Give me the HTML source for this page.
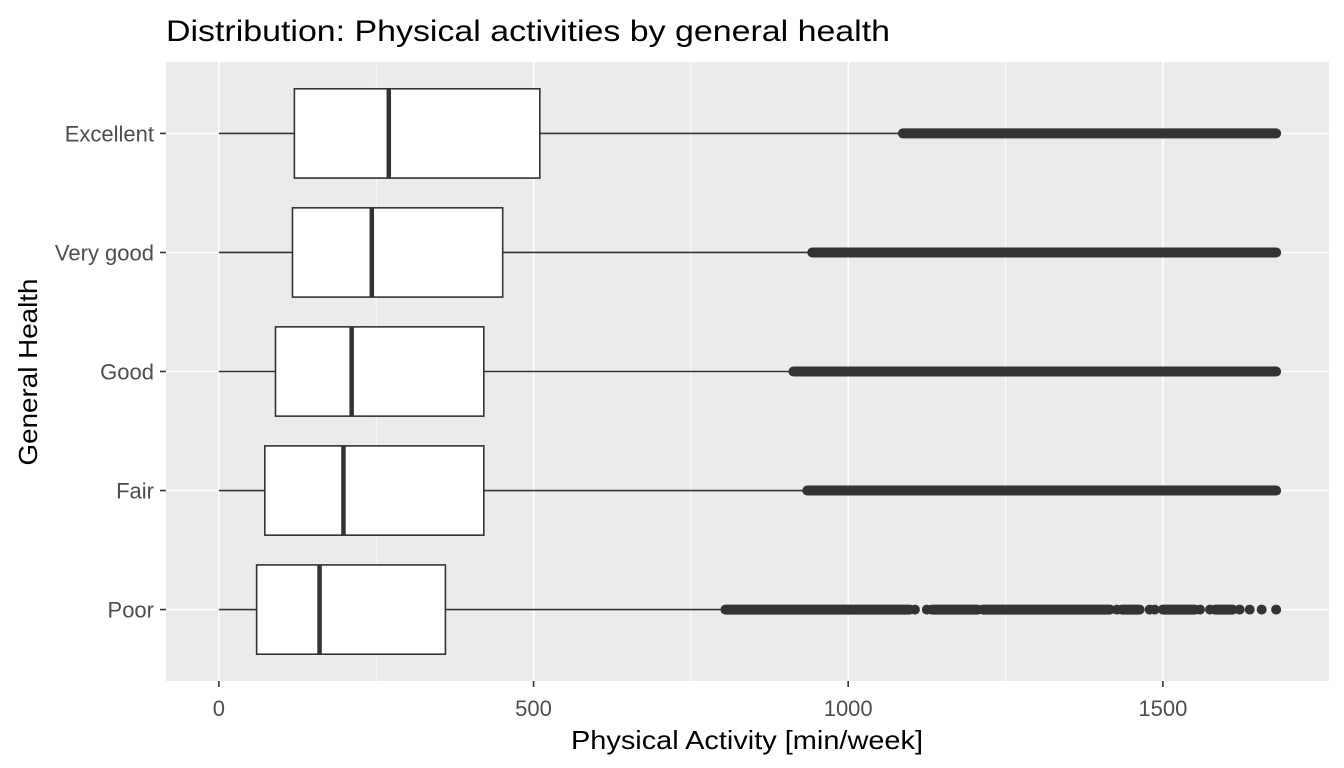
<!DOCTYPE html>
<html><head><meta charset="utf-8">
<style>
html,body{margin:0;padding:0;background:#fff;}
svg{display:block;font-family:"Liberation Sans",Arial,sans-serif;}
</style></head>
<body>
<svg id="chart" width="1344" height="768" viewBox="0 0 1344 768" xmlns="http://www.w3.org/2000/svg">
<rect x="0" y="0" width="1344" height="768" fill="#fff"/>
<text x="166" y="41" font-size="30" fill="#000" textLength="724" lengthAdjust="spacingAndGlyphs">Distribution: Physical activities by general health</text>
<rect x="166" y="62" width="1163" height="619" fill="#ebebeb"/>
<g id="grid"></g>
<g id="marks"></g>
<g id="axes"></g>
<text x="747" y="749" font-size="26" text-anchor="middle" fill="#000" textLength="352" lengthAdjust="spacingAndGlyphs">Physical Activity [min/week]</text>
<text transform="translate(37,372) rotate(-90)" font-size="26" text-anchor="middle" fill="#000" textLength="187" lengthAdjust="spacingAndGlyphs">General Health</text>
</svg>
<script>
const categories = ["Excellent","Very good","Good","Fair","Poor"];
const q1 = [120, 117, 90, 73, 60];
const median = [270, 243, 211, 198, 160];
const q3 = [510, 451, 421, 421, 360];
const whiskerLow = [0, 0, 0, 0, 0];
const whiskerHigh = [1087, 943, 913, 935, 805];
// outlier runs [from, to] (dense clusters of points) per category
const outliersExcellent = [[1087,1680]];
const outliersVeryGood = [[943,1680]];
const outliersGood = [[913,1680]];
const outliersFair = [[935,1680]];
const outliersPoor = [[805,1098],[1106,1106],[1125,1125],[1133,1206],[1214,1416],[1427,1427],[1435,1463],[1479,1479],[1487,1487],[1500,1551],[1559,1559],[1575,1575],[1583,1611],[1622,1622],[1638,1638],[1657,1657],[1680,1680]];
const outliers = [outliersExcellent, outliersVeryGood, outliersGood, outliersFair, outliersPoor];
const xTicks = [0, 500, 1000, 1500];
const xMinor = [250, 750, 1250];
const xDomain = [-84, 1764];

const NS = "http://www.w3.org/2000/svg";
const PL = 166, PR = 1329, PT = 62, PB = 681;
function xs(v){ return PL + (v - xDomain[0]) / (xDomain[1] - xDomain[0]) * (PR - PL); }
const step = (PB - PT) / (categories.length + 0.2);
function ys(i){ return PT + step * (0.6 + i); }
function mk(tag, attrs, parent){ const e = document.createElementNS(NS, tag); for (const k in attrs) e.setAttribute(k, attrs[k]); parent.appendChild(e); return e; }

const grid = document.getElementById('grid');
xMinor.forEach(v => {
  const l = mk('line', {x1: xs(v), x2: xs(v), y1: PT, y2: PB, stroke: '#fff', 'stroke-width': 0.8}, grid);
  
  
});
xTicks.forEach(v => {
  const l = mk('line', {x1: xs(v), x2: xs(v), y1: PT, y2: PB, stroke: '#fff', 'stroke-width': 1.6}, grid);
  
  
});
categories.forEach((c, i) => {
  const l = mk('line', {x1: PL, x2: PR, y1: ys(i), y2: ys(i), stroke: '#fff', 'stroke-width': 1.6}, grid);
  
  
});

const marks = document.getElementById('marks');
const bh = step * 0.75;
categories.forEach((c, i) => {
  const y = ys(i);
  const g = mk('g', {}, marks);
  
  
  const wl = mk('line', {x1: xs(whiskerLow[i]), x2: xs(q1[i]), y1: y, y2: y, stroke: '#333', 'stroke-width': 1.6}, g);
  
  
  const wh = mk('line', {x1: xs(q3[i]), x2: xs(whiskerHigh[i]), y1: y, y2: y, stroke: '#333', 'stroke-width': 1.6}, g);
  
  
  outliers[i].forEach(r => {
    const o = mk('line', {x1: xs(r[0]), x2: xs(r[1]), y1: y, y2: y, stroke: '#333', 'stroke-width': 10, 'stroke-linecap': 'round'}, g);
    
    
  });
  const b = mk('rect', {x: xs(q1[i]), y: y - bh / 2, width: xs(q3[i]) - xs(q1[i]), height: bh, fill: '#fff', stroke: '#333', 'stroke-width': 1.6}, g);
  
  
  const m = mk('line', {x1: xs(median[i]), x2: xs(median[i]), y1: y - bh / 2, y2: y + bh / 2, stroke: '#333', 'stroke-width': 4.5}, g);
  
  
});

const axes = document.getElementById('axes');
xTicks.forEach(v => {
  const t = mk('line', {x1: xs(v), x2: xs(v), y1: PB, y2: PB + 6, stroke: '#333', 'stroke-width': 1.6}, axes);
  
  
  const l = mk('text', {x: xs(v), y: 716, 'font-size': 22, 'text-anchor': 'middle', fill: '#4d4d4d'}, axes);
  l.textContent = String(v);
  
  
});
categories.forEach((c, i) => {
  const t = mk('line', {x1: PL - 6, x2: PL, y1: ys(i), y2: ys(i), stroke: '#333', 'stroke-width': 1.6}, axes);
  
  
  const l = mk('text', {x: PL - 12, y: ys(i) + 8, 'font-size': 22, 'text-anchor': 'end', fill: '#4d4d4d'}, axes);
  l.textContent = c;
  
  
});
</script>
</body></html>
